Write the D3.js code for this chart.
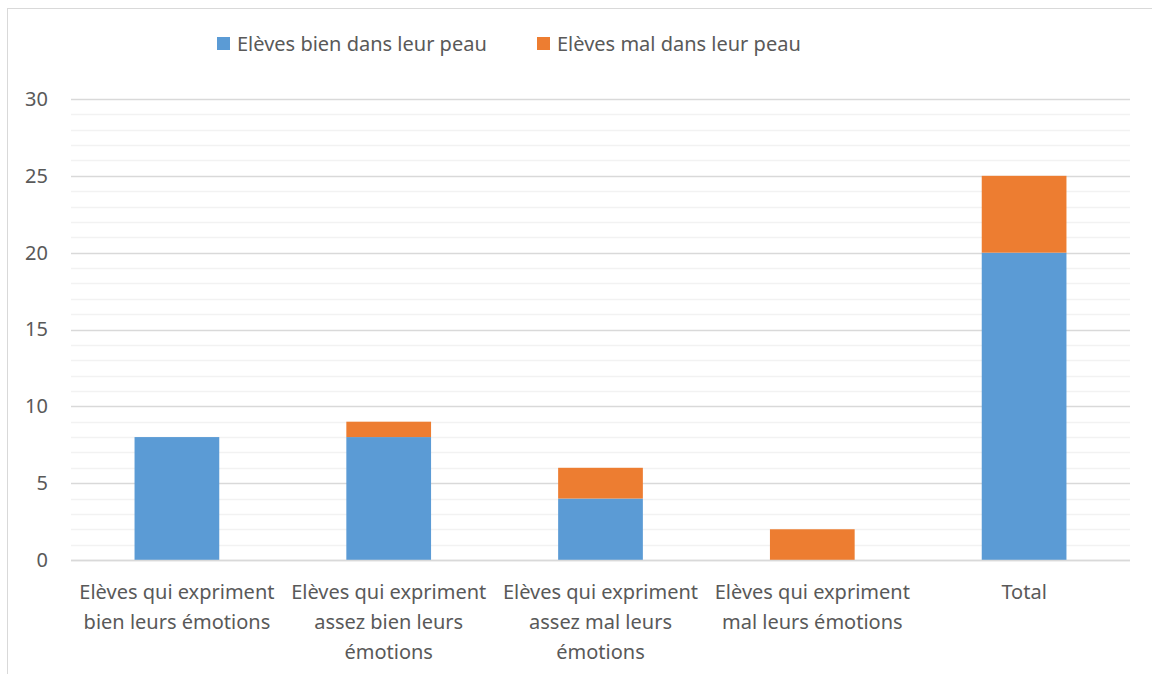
<!DOCTYPE html>
<html>
<head>
<meta charset="utf-8">
<script src="https://cdn.jsdelivr.net/npm/d3@7"></script>
<style>
	body { margin: 0; background: #fff; }
	svg text { font-family: "Noto Sans", "Open Sans", sans-serif; fill: #595959; }
</style>
</head>
<body>
<div id="chart"></div>
<script>
const categories = [
	"Elèves qui expriment\nbien leurs émotions",
	"Elèves qui expriment\nassez bien leurs\némotions",
	"Elèves qui expriment\nassez mal leurs\némotions",
	"Elèves qui expriment\nmal leurs émotions",
	"Total"
];
const seriesNames = ["Elèves bien dans leur peau", "Elèves mal dans leur peau"];
const bienValues = [8, 8, 4, 0, 20];
const malValues = [0, 1, 2, 2, 5];
const yTicks = [0, 5, 10, 15, 20, 25, 30];
const colors = ["#5b9bd5", "#ed7d31"];

const W = 1152, H = 674;
const FONT = 20;
const margins = { L: 71, R: 22, T: 99, B: 114 };
const width = W - margins.L - margins.R;
const height = H - margins.T - margins.B;

const svg = d3.select("#chart").append("svg")
	.attr("width", W)
	.attr("height", H);

// outer chart border
svg.append("rect")
	.attr("x", 7.5).attr("y", 8.5)
	.attr("width", W + 20).attr("height", H + 20)
	.attr("fill", "none")
	.attr("stroke", "#d9d9d9");

const g = svg.append("g")
	.attr("transform", "translate(" + margins.L + "," + margins.T + ")");

const x = d3.scaleBand()
	.domain(categories)
	.range([0, width])
	.paddingInner(0.6)
	.paddingOuter(0.3);

const y = d3.scaleLinear()
	.domain([0, 30])
	.range([height, 0]);

// minor gridlines
g.append("g")
	.selectAll("line")
	.data(d3.range(0, 31, 1).filter(v => v % 5 !== 0))
	.enter().append("line")
	.attr("x1", 0).attr("x2", width)
	.attr("y1", d => Math.round(y(d)) + 0.5)
	.attr("y2", d => Math.round(y(d)) + 0.5)
	.attr("stroke", "#f2f2f2")
	.attr("stroke-width", 1.3);

// major gridlines
g.append("g")
	.selectAll("line")
	.data(yTicks)
	.enter().append("line")
	.attr("x1", 0).attr("x2", width)
	.attr("y1", d => Math.round(y(d)) + 0.5)
	.attr("y2", d => Math.round(y(d)) + 0.5)
	.attr("stroke", "#d9d9d9")
	.attr("stroke-width", 1.3);

// y axis labels
const yAxis = d3.axisLeft(y).tickValues(yTicks).tickSize(0).tickPadding(23);
g.append("g")
	.call(yAxis)
	.call(a => a.select(".domain").remove())
	.selectAll("text")
	.attr("font-size", FONT)
	.style("font-family", null);

// stacked bars
const rows = categories.map((c, i) => ({ cat: c, bien: bienValues[i], mal: malValues[i] }));
const stack = d3.stack().keys(["bien", "mal"])(rows);

g.selectAll(".layer")
	.data(stack)
	.enter().append("g")
	.attr("class", "layer")
	.attr("fill", (d, i) => colors[i])
	.selectAll("rect")
	.data(d => d.filter(s => s[1] > s[0]))
	.enter().append("rect")
	.attr("x", d => x(d.data.cat))
	.attr("y", d => y(d[1]))
	.attr("width", x.bandwidth())
	.attr("height", d => y(d[0]) - y(d[1]));

// x axis line
g.append("line")
	.attr("x1", 0).attr("x2", width)
	.attr("y1", height + 0.5).attr("y2", height + 0.5)
	.attr("stroke", "#d9d9d9")
	.attr("stroke-width", 1.3);

// category labels
const xLabels = g.append("g")
	.selectAll("text")
	.data(categories)
	.enter().append("text")
	.attr("text-anchor", "middle")
	.attr("font-size", FONT)
	.attr("transform", d => "translate(" + (x(d) + x.bandwidth() / 2) + "," + (height + 39) + ")");

xLabels.selectAll("tspan")
	.data(d => d.split("\n"))
	.enter().append("tspan")
	.attr("x", 0)
	.attr("dy", (d, i) => i === 0 ? 0 : 30)
	.text(d => d);

// legend
const legendX = [217, 537];
const legend = svg.append("g")
	.selectAll("g")
	.data(seriesNames)
	.enter().append("g")
	.attr("transform", (d, i) => "translate(" + legendX[i] + ",37)");

legend.append("rect")
	.attr("width", 13).attr("height", 13)
	.attr("fill", (d, i) => colors[i]);

legend.append("text")
	.attr("x", 20)
	.attr("y", 14)
	.attr("font-size", FONT)
	.text(d => d);
</script>
</body>
</html>
